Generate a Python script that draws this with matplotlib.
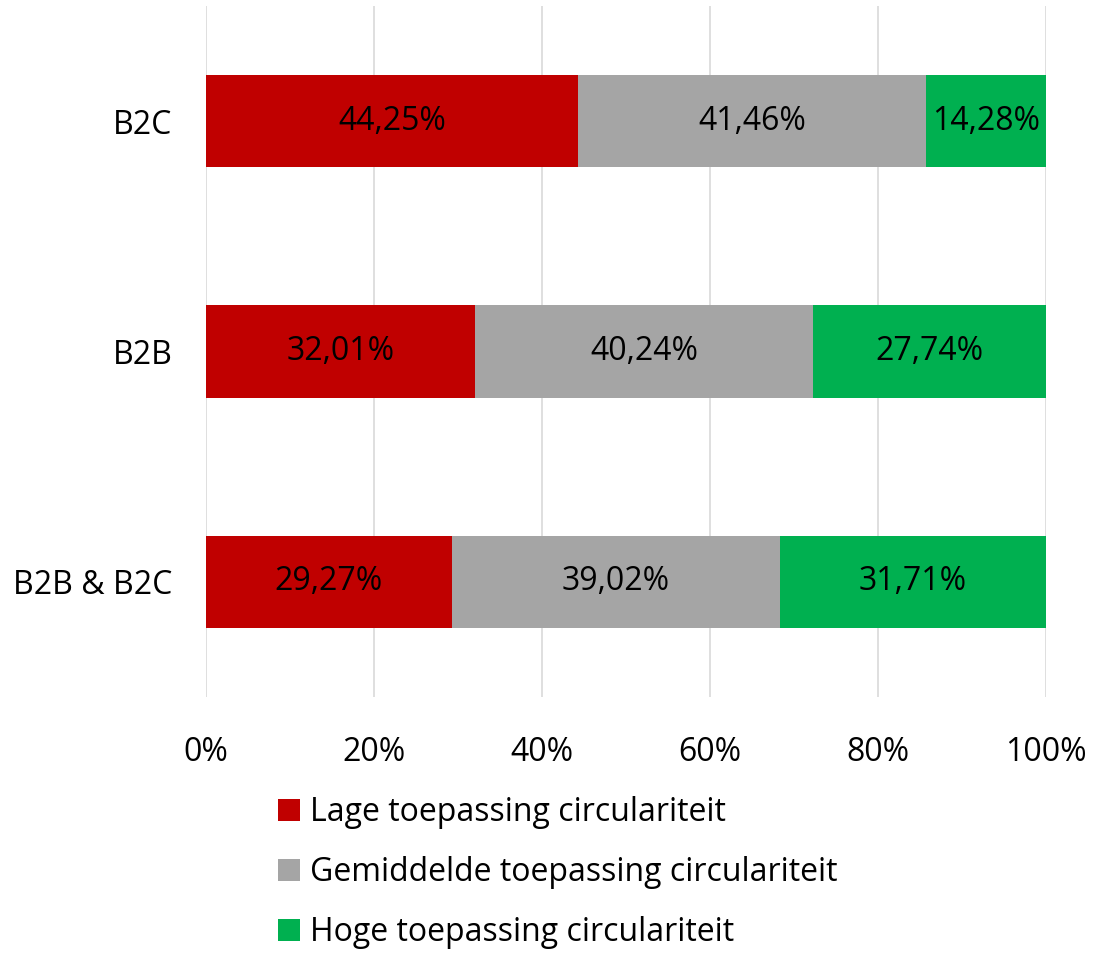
import numpy as np
import matplotlib.pyplot as plt
from matplotlib.patches import Patch

plt.rcParams['font.family'] = ['Open Sans', 'DejaVu Sans']

categories = ["B2C", "B2B", "B2B & B2C"]
lage = [44.25, 32.01, 29.27]
gemiddeld = [41.46, 40.24, 39.02]
hoog = [14.28, 27.74, 31.71]
series_names = ["Lage toepassing circulariteit",
                "Gemiddelde toepassing circulariteit",
                "Hoge toepassing circulariteit"]
colors = ["#C00000", "#A5A5A5", "#00B050"]

fig = plt.figure(figsize=(10.94, 9.55), dpi=100)
ax = fig.add_axes([0.1883, 0.2702, 0.7678, 0.7236])

y = np.arange(len(categories))
left = np.zeros(len(categories))
for vals, col in zip([lage, gemiddeld, hoog], colors):
    vals = np.array(vals)
    ax.barh(y, vals, left=left, height=0.4, color=col, zorder=3)
    for yi, l, v in zip(y, left, vals):
        ax.text(l + v / 2, yi, f"{v:.2f}%".replace(".", ","), ha="center", va="center",
                fontsize=23, color="black", zorder=4)
    left = left + vals

ax.set_xlim(0, 100)
ax.set_ylim(2.5, -0.5)
ax.set_yticks(y)
ax.set_yticklabels(categories, fontsize=23)
ax.set_xticks(np.arange(0, 101, 20))
ax.set_xticklabels([f"{t}%" for t in range(0, 101, 20)], fontsize=23)
ax.tick_params(axis="x", length=0, pad=28)
ax.tick_params(axis="y", length=0, pad=24)
ax.xaxis.grid(True, color="#D9D9D9", linewidth=1.2, zorder=0)
for s in ax.spines.values():
    s.set_visible(False)

handles = [Patch(facecolor=c, edgecolor="none") for c in colors]
fig.legend(handles, series_names, loc="upper left", bbox_to_anchor=(0.254, 0.166),
           frameon=False, fontsize=23, handlelength=0.7, handleheight=0.7,
           handletextpad=0.3, labelspacing=0.84, borderpad=0, borderaxespad=0)

fig.savefig("out.png", dpi=100)
